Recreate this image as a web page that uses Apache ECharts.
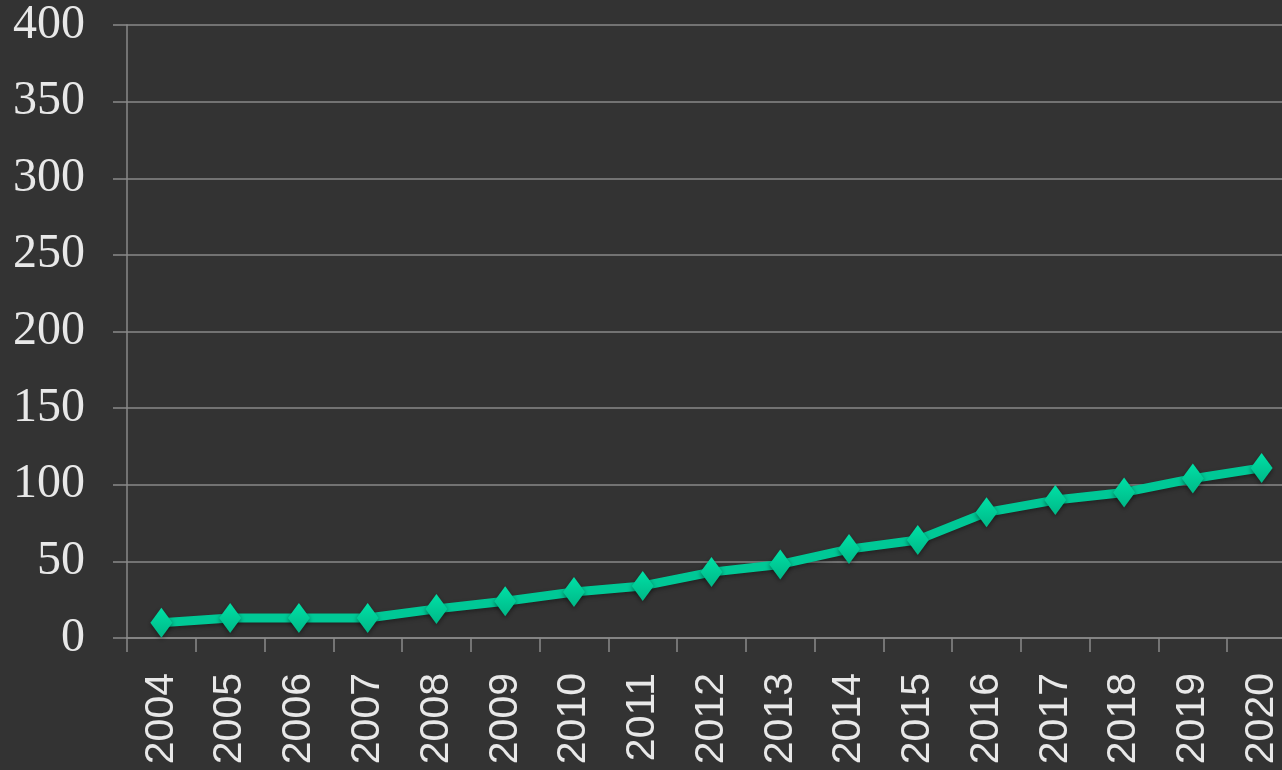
<!DOCTYPE html>
<html><head><meta charset="utf-8">
<script src="https://cdn.jsdelivr.net/npm/echarts@6/dist/echarts.min.js"></script>
<style>html,body{margin:0;padding:0;background:#333333;overflow:hidden;width:1282px;height:770px;}#c{width:1296px;height:770px;}</style>
</head><body><div id="c"></div>
<script>
const years = ['2004','2005','2006','2007','2008','2009','2010','2011','2012','2013','2014','2015','2016','2017','2018','2019','2020'];
const values = [10, 13, 13, 13, 19, 24, 30, 34, 43, 48, 58, 64, 82, 90, 95, 104, 111];
const yMin = 0, yMax = 400, yStep = 50;

const chart = echarts.init(document.getElementById('c'));
chart.setOption({
  backgroundColor: '#333333',
  animation: false,
  grid: {left: 127, right: 0, top: 25, bottom: 132, containLabel: false},
  xAxis: {
    type: 'category', data: years, boundaryGap: true,
    axisLine: {show: true, lineStyle: {color: '#8a8a8a', width: 1.5}},
    axisTick: {show: true, length: 14, alignWithLabel: false, lineStyle: {color: '#8a8a8a', width: 1.5}},
    axisLabel: {rotate: 90, margin: 35, color: '#e8e8e8', fontFamily: 'Liberation Sans', fontSize: 41, interval: 0}
  },
  yAxis: {
    type: 'value', min: yMin, max: yMax, interval: yStep,
    axisLine: {show: true, lineStyle: {color: '#8a8a8a', width: 1.5}},
    axisTick: {show: true, length: 14, lineStyle: {color: '#8a8a8a', width: 1.5}},
    splitLine: {show: true, lineStyle: {color: '#8a8a8a', width: 1.5}},
    axisLabel: {margin: 42, color: '#e8e8e8', fontFamily: 'Liberation Serif', fontSize: 48}
  },
  series: [{
    type: 'line', data: values,
    symbol: 'diamond', symbolSize: [22, 30],
    lineStyle: {color: '#00c896', width: 9, shadowColor: 'rgba(0,0,0,0.35)', shadowBlur: 4, shadowOffsetY: 2},
    itemStyle: {
      color: new echarts.graphic.LinearGradient(0, 0, 0, 1, [{offset: 0, color: '#00e0a6'}, {offset: 1, color: '#00b887'}]),
      shadowColor: 'rgba(0,0,0,0.45)', shadowBlur: 5, shadowOffsetY: 2
    }
  }]
});
</script></body></html>
